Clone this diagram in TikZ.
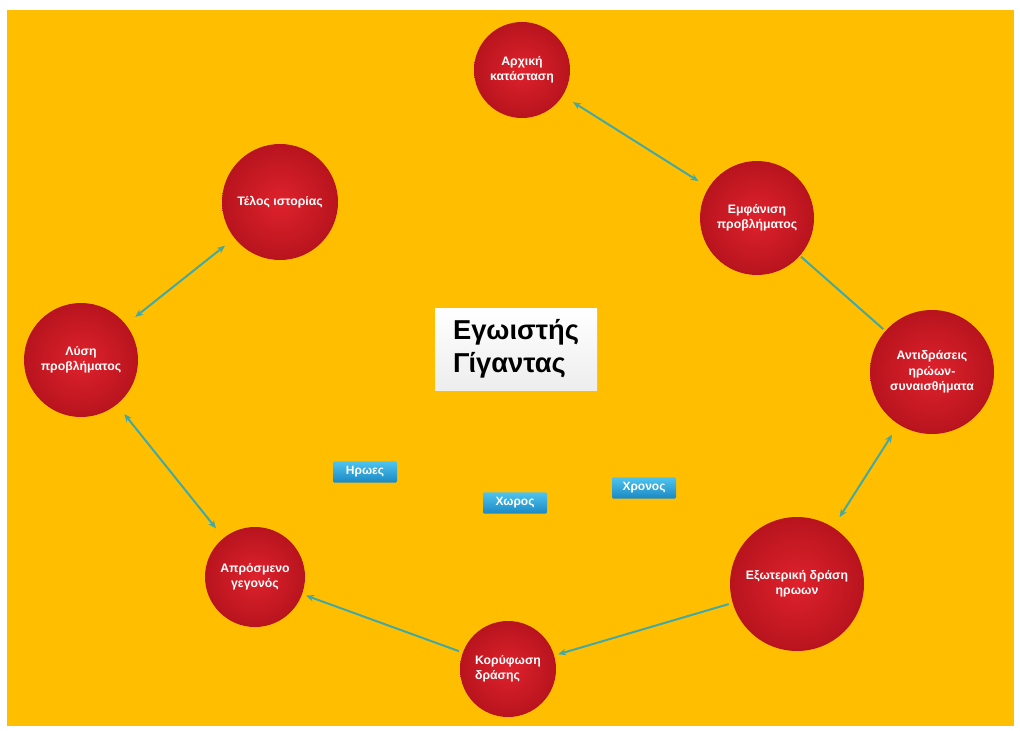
\documentclass[tikz,border=0pt]{standalone}
\usepackage{fontspec}
\setmainfont{Liberation Sans}
\usetikzlibrary{arrows.meta,shapes.geometric}
\definecolor{bg}{HTML}{FFBF00}
\definecolor{lnk}{HTML}{45A8A2}
\definecolor{redin}{HTML}{DE222C}
\definecolor{redout}{HTML}{B8141E}
\definecolor{bluetop}{HTML}{4FC4EE}
\definecolor{bluebot}{HTML}{1A88C4}
\tikzset{
  bubble/.style={circle, inner sep=0pt, text=white, align=center,
    font=\bfseries\fontsize{9.2}{11.5}\selectfont,
    inner color=redin, outer color=redout},
  tag/.style={rectangle, rounded corners=1pt, minimum width=48pt, minimum height=16pt,
    inner sep=0pt, text=white, font=\bfseries\fontsize{9}{10}\selectfont,
    top color=bluetop, bottom color=bluebot},
  both/.style={draw=lnk, line width=1.5pt, {Stealth[length=6pt,width=5pt]}-{Stealth[length=6pt,width=5pt]}, shorten <=9pt, shorten >=9pt},
  one/.style={draw=lnk, line width=1.5pt, -{Stealth[length=6pt,width=5pt]}, shorten <=3pt, shorten >=3pt},
  plain/.style={draw=lnk, line width=1.5pt, shorten <=1pt, shorten >=2pt},
}
\begin{document}
\begin{tikzpicture}[x=0.75pt,y=-0.75pt]
\useasboundingbox (0,0) rectangle (1020,731);
\fill[white] (0,0) rectangle (1020,731);
\fill[bg] (7,10) rectangle (1014,726);

\node[bubble, minimum size=72pt] (A) at (522,70) {Αρχική\\κατάσταση};
\node[bubble, minimum size=85.5pt] (B) at (757,218) {Εμφάνιση\\προβλήματος};
\node[bubble, minimum size=93pt] (C) at (932,372) {Αντιδράσεις\\ηρώων-\\συναισθήματα};
\node[bubble, minimum size=100.5pt] (D) at (797,584) {Εξωτερική δράση\\ηρωων};
\node[bubble, minimum size=72pt, align=left] (E) at (508,669) {Κορύφωση\\δράσης};
\node[bubble, minimum size=75pt] (F) at (255,577) {Απρόσμενο\\γεγονός};
\node[bubble, minimum size=85.5pt] (G) at (81,360) {Λύση\\προβλήματος};
\node[bubble, minimum size=87pt] (H) at (280,202) {Τέλος ιστορίας};

\node[rectangle, minimum width=121.5pt, minimum height=61.5pt, inner sep=0pt,
  top color=white, bottom color=black!7, align=left,
  font=\bfseries\fontsize{20.5}{25}\selectfont] (T) at (516,349) {Εγωιστής\\Γίγαντας};

\node[tag] (h1) at (365,472) {Ηρωες};
\node[tag] (h2) at (515,503) {Χωρος};
\node[tag] (h3) at (644,488) {Χρονος};

\draw[both] (A) -- (B);
\draw[plain] (B) -- (C);
\draw[both] (C) -- (D);
\draw[one] (D) -- (E);
\draw[one] (E) -- (F);
\draw[both] (F) -- (G);
\draw[both] (G) -- (H);
\end{tikzpicture}
\end{document}
